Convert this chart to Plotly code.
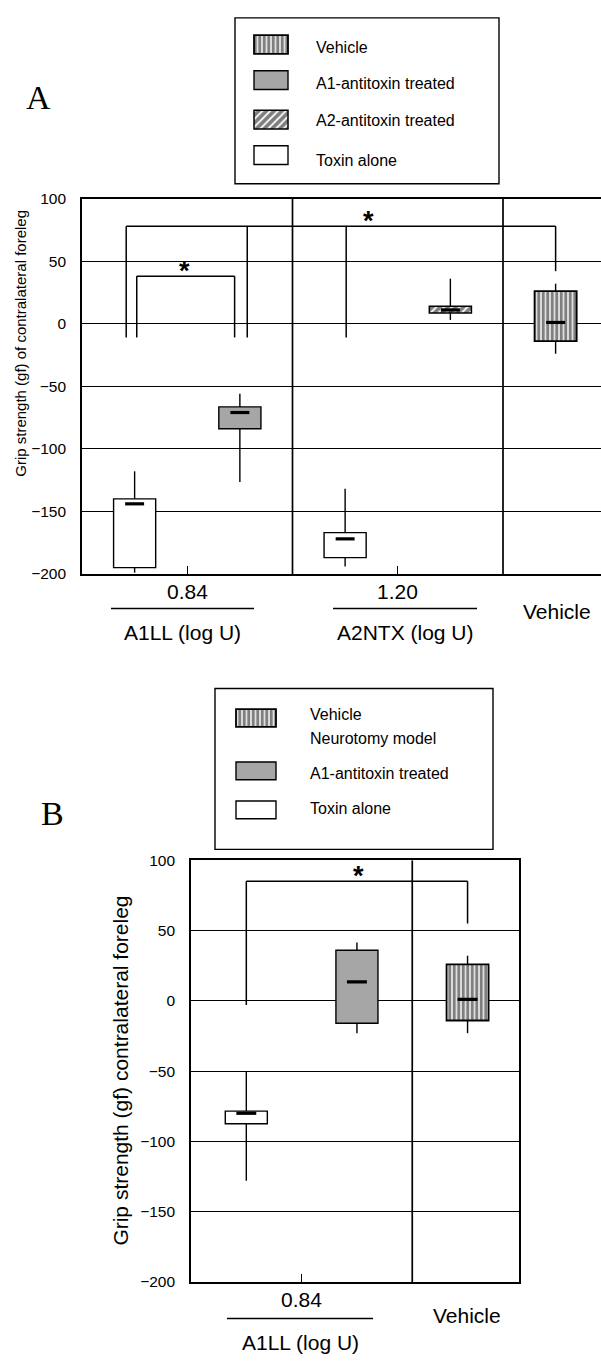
import plotly.graph_objects as go

# ---------------- data ----------------
# Panel A: grip strength box summaries (gf)
a_series = ["Toxin alone", "A1-antitoxin treated", "Toxin alone", "A2-antitoxin treated", "Vehicle"]
a_pos = [0.5, 1.5, 2.5, 3.5, 4.5]
a_q3 = [-140, -66.5, -167, 14, 26]
a_q1 = [-195, -84, -187, 8.5, -14]
a_median = [-144, -71, -172, 11, 1]
a_upper = [-118, -56, -132, 36, 32]
a_lower = [-199, -126.5, -194, 3, -24]
a_tickvals = [1, 3]
a_ticktext = ["0.84", "1.20"]

# Panel B: grip strength box summaries (gf)
b_series = ["Toxin alone", "A1-antitoxin treated", "Vehicle"]
b_pos = [0.5, 1.5, 2.5]
b_q3 = [-78.5, 36, 26]
b_q1 = [-87.5, -16, -14]
b_median = [-80, 13.5, 1]
b_upper = [-50, 41.5, 32]
b_lower = [-128, -23, -23]
b_tickvals = [1]
b_ticktext = ["0.84"]

y_ticks = [100, 50, 0, -50, -100, -150, -200]

# significance brackets: leg x positions, top y, leg bottoms, star x
a_brackets = [
    dict(legs=[0.52, 1.45], top=38, bottoms=[-11, -11], star=0.97),
    dict(legs=[0.42, 1.57, 2.51, 4.5], top=78, bottoms=[-11, -11, -11, 42], star=2.72),
]
b_brackets = [
    dict(legs=[0.5, 2.5], top=85, bottoms=[-3, 55], star=1.51),
]

# ---------------- page geometry ----------------
W, H = 601, 1366
FONT = "Liberation Sans, Arial, sans-serif"
SERIF = "Liberation Serif, Times New Roman, serif"


def px(x):
    return x / W


def py(y):
    return 1 - y / H


STYLES = {
    "Vehicle": dict(color="white",
                    pattern=dict(shape="|", fgcolor="black", bgcolor="white", size=4.5, solidity=0.7),
                    line=dict(color="black", width=1.8)),
    "A1-antitoxin treated": dict(color="#a6a6a6", line=dict(color="black", width=1.4)),
    "A2-antitoxin treated": dict(color="white",
                                 pattern=dict(shape="/", fgcolor="black", bgcolor="white", size=5.5, solidity=0.68),
                                 line=dict(color="black", width=1.5)),
    "Toxin alone": dict(color="white", line=dict(color="black", width=1.4)),
}

fig = go.Figure()


def add_panel(series, pos, q1, q3, med, lo, hi, xa, ya, box_w, med_w):
    # boxes, one trace per treatment so each keeps its own fill
    for name in dict.fromkeys(series):
        idx = [i for i, s in enumerate(series) if s == name]
        fig.add_trace(go.Bar(
            x=[pos[i] for i in idx],
            y=[q3[i] - q1[i] for i in idx],
            base=[q1[i] for i in idx],
            width=box_w, marker=STYLES[name], xaxis=xa, yaxis=ya,
            showlegend=False, hoverinfo="skip"))
    # whiskers
    wx, wy = [], []
    for i in range(len(pos)):
        wx += [pos[i], pos[i], None, pos[i], pos[i], None]
        wy += [q3[i], hi[i], None, q1[i], lo[i], None]
    fig.add_trace(go.Scatter(x=wx, y=wy, mode="lines", line=dict(color="black", width=1.4),
                             xaxis=xa, yaxis=ya, showlegend=False, hoverinfo="skip"))
    # medians
    mx, my = [], []
    for i in range(len(pos)):
        mx += [pos[i] - med_w, pos[i] + med_w, None]
        my += [med[i], med[i], None]
    fig.add_trace(go.Scatter(x=mx, y=my, mode="lines", line=dict(color="black", width=3.2),
                             xaxis=xa, yaxis=ya, showlegend=False, hoverinfo="skip"))


def add_brackets(brackets, xa, ya):
    for b in brackets:
        bx, by = [], []
        for x, bot in zip(b["legs"], b["bottoms"]):
            bx += [x, x, None]
            by += [b["top"], bot, None]
        bx += [min(b["legs"]), max(b["legs"])]
        by += [b["top"], b["top"]]
        fig.add_trace(go.Scatter(x=bx, y=by, mode="lines", line=dict(color="black", width=1.5),
                                 xaxis=xa, yaxis=ya, showlegend=False, hoverinfo="skip"))
        fig.add_annotation(x=b["star"], y=b["top"], xref=xa, yref=ya, text="<b>*</b>",
                           showarrow=False, yanchor="bottom", yshift=-12,
                           font=dict(family=FONT, size=27, color="black"))


def add_xlabels(vals, texts, xa, axis_y):
    for v, t in zip(vals, texts):
        fig.add_annotation(x=v, y=py(axis_y + 18), xref=xa, yref="paper", text=t,
                           showarrow=False, xanchor="center", yanchor="middle",
                           font=dict(family=FONT, size=21, color="black"))


add_panel(a_series, a_pos, a_q1, a_q3, a_median, a_lower, a_upper, "x", "y", 0.4, 0.09)
add_brackets(a_brackets, "x", "y")
add_xlabels(a_tickvals, a_ticktext, "x", 572)
add_panel(b_series, b_pos, b_q1, b_q3, b_median, b_lower, b_upper, "x2", "y2", 0.38, 0.09)
add_brackets(b_brackets, "x2", "y2")
add_xlabels(b_tickvals, b_ticktext, "x2", 1289)

# group dividers
for xv in [2, 4]:
    fig.add_shape(type="line", x0=xv, x1=xv, y0=-200, y1=100, xref="x", yref="y",
                  line=dict(color="black", width=1.7), layer="below")
fig.add_shape(type="line", x0=2, x1=2, y0=-200, y1=100, xref="x2", yref="y2",
              line=dict(color="black", width=1.7), layer="below")

# ---------------- axes ----------------
common_y = dict(range=[-200, 100], tickvals=y_ticks, showgrid=True, gridcolor="black", gridwidth=1.3,
                zeroline=False, showline=True, linecolor="black", linewidth=1.7, ticks="",
                ticklabelstandoff=11, tickfont=dict(family=FONT, size=15.5, color="black"),
                fixedrange=True)
common_x = dict(showgrid=False, zeroline=False, showline=True, linecolor="black", linewidth=1.7,
                ticks="inside", ticklen=8, tickcolor="black", tickwidth=1.3,
                showticklabels=False, fixedrange=True)

fig.update_layout(
    xaxis=dict(domain=[px(82), 1], range=[0, 519 / 105.25], tickvals=a_tickvals,
               mirror=True, anchor="y", **common_x),
    yaxis=dict(domain=[py(572), py(192)], anchor="x", **common_y),
    xaxis2=dict(domain=[px(191), px(519)], range=[0, 2.965], tickvals=b_tickvals,
                mirror=True, anchor="y2", **common_x),
    yaxis2=dict(domain=[py(1289), py(862)], anchor="x2", mirror=True, **common_y),
    xaxis3=dict(domain=[px(235), px(499)], range=[235, 499], visible=False, fixedrange=True, anchor="y3"),
    yaxis3=dict(domain=[py(177), py(9)], range=[177, 9], visible=False, fixedrange=True, anchor="x3"),
    xaxis4=dict(domain=[px(215), px(493)], range=[215, 493], visible=False, fixedrange=True, anchor="y4"),
    yaxis4=dict(domain=[py(851), py(688)], range=[851, 688], visible=False, fixedrange=True, anchor="x4"),
    barmode="overlay",
    width=W, height=H, margin=dict(l=0, r=0, t=0, b=0),
    paper_bgcolor="white", plot_bgcolor="rgba(0,0,0,0)",
    showlegend=False,
)

# ---------------- legends ----------------
legend_a = [("Vehicle", 36, ["Vehicle"], [38.5]),
            ("A1-antitoxin treated", 72, ["A1-antitoxin treated"], [75.5]),
            ("A2-antitoxin treated", 112, ["A2-antitoxin treated"], [113]),
            ("Toxin alone", 148, ["Toxin alone"], [153.5])]
legend_b = [("Vehicle", 718, ["Vehicle", "Neurotomy model"], [714, 739]),
            ("A1-antitoxin treated", 771.5, ["A1-antitoxin treated"], [774]),
            ("Toxin alone", 811, ["Toxin alone"], [810])]


def draw_legend(entries, xa, ya, box, sw_x0, sw_w, sw_h, txt_x):
    x0, y0, x1, y1 = box
    fig.add_shape(type="rect", x0=px(x0), x1=px(x1), y0=py(y0), y1=py(y1), xref="paper", yref="paper",
                  line=dict(color="black", width=1.4), fillcolor="rgba(0,0,0,0)")
    for name, yc, labels, ly in entries:
        fig.add_trace(go.Bar(y=[yc], x=[sw_w], base=[sw_x0], width=sw_h, orientation="h",
                             marker=STYLES[name], xaxis=xa, yaxis=ya,
                             showlegend=False, hoverinfo="skip"))
        for lab, yy in zip(labels, ly):
            fig.add_annotation(x=px(txt_x), y=py(yy), xref="paper", yref="paper", text=lab,
                               showarrow=False, xanchor="left", yanchor="middle",
                               font=dict(family=FONT, size=16, color="black"))


draw_legend(legend_a, "x3", "y3", (235, 9, 499, 177), 254, 34, 19, 314)
draw_legend(legend_b, "x4", "y4", (215, 688, 493, 851), 236, 40, 18, 308)

# ---------------- labels ----------------
def label(x, y, text, size, angle=0, family=FONT):
    fig.add_annotation(x=px(x), y=py(y), xref="paper", yref="paper", text=text, showarrow=False,
                       xanchor="center", yanchor="middle", textangle=angle,
                       font=dict(family=family, size=size, color="black"))


label(38, 90, "A", 34, family=SERIF)
label(52, 815, "B", 34, family=SERIF)
label(21, 339, "Grip strength (gf) of contralateral foreleg", 15, angle=-90)
label(121, 1075, "Grip strength (gf) contralateral foreleg", 21, angle=-90)

label(182, 631, "A1LL (log U)", 21)
label(405, 631, "A2NTX (log U)", 21)
label(557, 610, "Vehicle", 21)
label(300, 1350, "A1LL (log U)", 21)
label(467, 1323, "Vehicle", 21)

for x0, x1, y in [(111, 254, 607), (333, 477, 607), (227, 373, 1326)]:
    fig.add_shape(type="line", x0=px(x0), x1=px(x1), y0=py(y), y1=py(y), xref="paper", yref="paper",
                  line=dict(color="black", width=1.5))

fig.write_html("out.html")
